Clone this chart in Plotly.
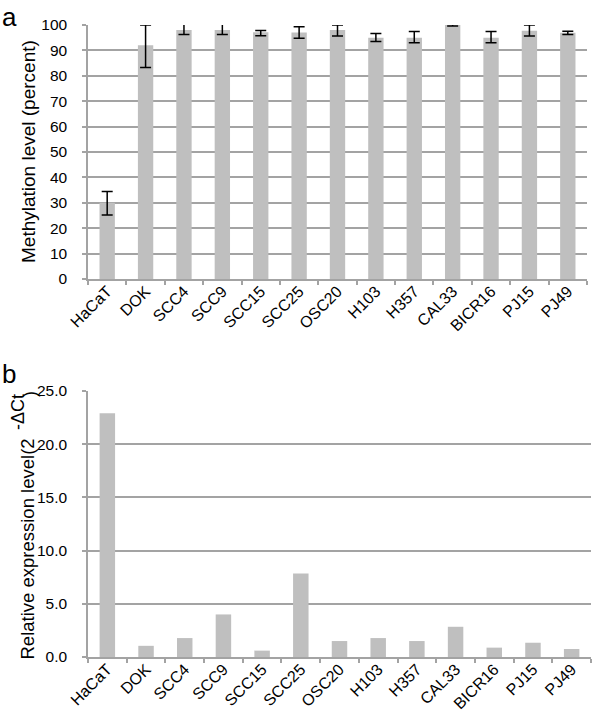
import plotly.graph_objects as go

cell_lines = ["HaCaT", "DOK", "SCC4", "SCC9", "SCC15", "SCC25", "OSC20",
              "H103", "H357", "CAL33", "BICR16", "PJ15", "PJ49"]
methylation = [30, 92, 98, 98, 97.1, 97, 98, 95, 95, 100, 95, 97.7, 96.9]
meth_err_plus = [4.4, 8, 2.5, 2.5, 0.7, 2.3, 2, 1.7, 2.4, 0.4, 2.4, 2.3, 0.6]
meth_err_minus = [4.8, 8.7, 1.7, 1.7, 1.3, 2.2, 2.3, 1.5, 2, 0.4, 2, 2, 0.6]
expression = [22.9, 1.05, 1.78, 4.0, 0.6, 7.85, 1.5, 1.78, 1.5, 2.84, 0.88, 1.34, 0.75]

BAR = "#bfbfbf"
GRID = "#a3a3a3"
FONT = "Liberation Sans, Arial, Helvetica, sans-serif"

W, H = 600, 713
ML, MR, MT, MB = 88, 9, 25, 56


def px(page_x):
    return (page_x - ML) / (W - ML - MR)


def py(page_y):
    return (H - MB - page_y) / (H - MT - MB)


fig = go.Figure()
fig.add_trace(go.Bar(
    x=cell_lines, y=methylation, marker_color=BAR, marker_line_width=0,
    error_y=dict(type="data", symmetric=False, array=meth_err_plus,
                 arrayminus=meth_err_minus, color="black", thickness=1.5, width=5.5),
    xaxis="x", yaxis="y", showlegend=False))
fig.add_trace(go.Bar(
    x=cell_lines, y=expression, marker_color=BAR, marker_line_width=0,
    xaxis="x2", yaxis="y2", showlegend=False))

xcommon = dict(type="category", showline=True, linecolor=GRID, linewidth=1.5,
               ticks="outside", tickson="boundaries", ticklen=4, tickcolor=GRID,
               tickwidth=1.5, tickangle=-45, showgrid=False, automargin=False,
               ticklabelstandoff=-5,
               tickfont=dict(size=16, color="black", family=FONT))
ycommon = dict(showline=True, linecolor=GRID, linewidth=1.5, ticks="outside",
               ticklen=4, tickcolor=GRID, tickwidth=1.5, showgrid=True,
               gridcolor=GRID, gridwidth=1.5, zeroline=False, automargin=False,
               ticklabelstandoff=12,
               tickfont=dict(size=15.5, color="black", family=FONT))

fig.update_layout(
    width=W, height=H,
    margin=dict(l=ML, r=MR, t=MT, b=MB),
    paper_bgcolor="white", plot_bgcolor="white",
    bargap=0.6,
    font=dict(family=FONT, color="black"),
    xaxis=dict(domain=[0, px(587)], anchor="y", **xcommon),
    yaxis=dict(domain=[py(279), 1], anchor="x", range=[0, 100], dtick=10, **ycommon),
    xaxis2=dict(domain=[0, 1], anchor="y2", **xcommon),
    yaxis2=dict(domain=[0, py(391)], anchor="x2", range=[0, 25], dtick=5,
                tickformat=".1f", **ycommon),
    annotations=[
        dict(text="Methylation level (percent)", textangle=-90, xref="paper", yref="paper",
             x=px(29), y=py(152), xanchor="center", yanchor="middle", showarrow=False,
             font=dict(size=19, family=FONT)),
        dict(text="Relative expression level(2", textangle=-90,
             xref="paper", yref="paper", x=px(27), y=py(662), xanchor="center",
             yanchor="bottom", showarrow=False, font=dict(size=18.5, family=FONT)),
        dict(text="-ΔCt", textangle=-90,
             xref="paper", yref="paper", x=px(18), y=py(432), xanchor="center",
             yanchor="bottom", showarrow=False, font=dict(size=18, family=FONT)),
        dict(text=")", textangle=-90,
             xref="paper", yref="paper", x=px(30), y=py(399), xanchor="center",
             yanchor="bottom", showarrow=False, font=dict(size=18, family=FONT)),
        dict(text="a", xref="paper", yref="paper", x=px(0), y=py(0), xanchor="left",
             yanchor="top", showarrow=False, font=dict(size=26, family=FONT)),
        dict(text="b", xref="paper", yref="paper", x=px(0), y=py(357), xanchor="left",
             yanchor="top", showarrow=False, font=dict(size=26, family=FONT)),
    ],
)

fig.write_html("out.html", config={"displayModeBar": False},
               post_script="document.body.style.margin='0px';")
